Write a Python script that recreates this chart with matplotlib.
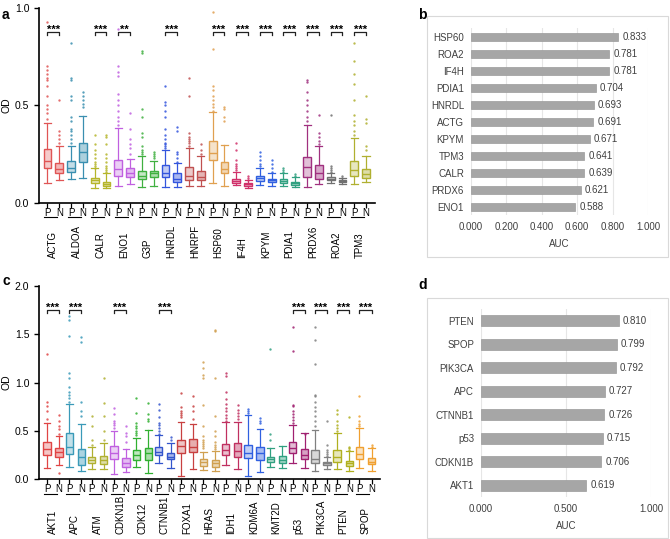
import numpy as np
import matplotlib
matplotlib.use('Agg')
import matplotlib.pyplot as plt
from matplotlib import transforms
from matplotlib.colors import to_rgba
from matplotlib.patches import Rectangle

plt.rcParams['font.family'] = ['Liberation Sans', 'DejaVu Sans']

# ---------------- panel a: boxplot stats  [whislo, q1, med, q3, whishi]
genes_a = ['ACTG', 'ALDOA', 'CALR', 'ENO1', 'G3P', 'HNRDL', 'HNRPF', 'HSP60',
           'IF4H', 'KPYM', 'PDIA1', 'PRDX6', 'ROA2', 'TPM3']
colors_a = ['#e05555', '#3a8fb0', '#b5b52a', '#c060e0', '#40b040', '#3355dd', '#c05050',
            '#e0a050', '#d0306a', '#3060e0', '#30a080', '#a0307f', '#707070', '#b0b030']
sig_a = ['***', '', '***', '**', '', '***', '', '***', '***', '***', '***', '***', '***', '***']
a_P = [[0.104, 0.178, 0.215, 0.275, 0.41], [0.123, 0.157, 0.181, 0.215, 0.292],
       [0.075, 0.103, 0.116, 0.126, 0.178], [0.087, 0.138, 0.174, 0.22, 0.383],
       [0.084, 0.123, 0.14, 0.166, 0.243], [0.084, 0.135, 0.152, 0.193, 0.272],
       [0.089, 0.118, 0.14, 0.186, 0.284], [0.10, 0.22, 0.258, 0.318, 0.465],
       [0.092, 0.10, 0.113, 0.123, 0.161], [0.092, 0.115, 0.126, 0.138, 0.178],
       [0.087, 0.10, 0.111, 0.121, 0.152], [0.084, 0.135, 0.183, 0.238, 0.40],
       [0.104, 0.118, 0.125, 0.135, 0.156], [0.096, 0.14, 0.169, 0.215, 0.335]]
a_N = [[0.118, 0.152, 0.174, 0.207, 0.292], [0.126, 0.212, 0.262, 0.309, 0.446],
       [0.075, 0.087, 0.097, 0.109, 0.152], [0.097, 0.135, 0.156, 0.178, 0.226],
       [0.087, 0.135, 0.152, 0.166, 0.217], [0.084, 0.109, 0.123, 0.152, 0.203],
       [0.089, 0.118, 0.132, 0.162, 0.241], [0.089, 0.156, 0.173, 0.209, 0.297],
       [0.079, 0.087, 0.096, 0.10, 0.118], [0.087, 0.106, 0.116, 0.125, 0.156],
       [0.082, 0.09, 0.10, 0.109, 0.135], [0.097, 0.125, 0.152, 0.195, 0.294],
       [0.096, 0.106, 0.111, 0.116, 0.126], [0.109, 0.126, 0.149, 0.174, 0.243]]
a_P_out = [[0.43, 0.46, 0.48, 0.50, 0.55, 0.60, 0.63, 0.64, 0.66, 0.68, 0.70, 0.93],
           [0.31, 0.33, 0.35, 0.37, 0.38, 0.42, 0.44, 0.53, 0.55, 0.63, 0.64, 0.82],
           [0.18, 0.19, 0.20, 0.21, 0.23, 0.25, 0.27, 0.30, 0.35],
           [0.40, 0.42, 0.44, 0.47, 0.50, 0.53, 0.56, 0.65, 0.67, 0.70, 0.89],
           [0.25, 0.26, 0.27, 0.29, 0.34, 0.36, 0.44, 0.48, 0.77, 0.78],
           [0.28, 0.29, 0.30, 0.31, 0.33, 0.35, 0.38, 0.44, 0.47, 0.50, 0.52, 0.60],
           [0.29, 0.31, 0.32, 0.33, 0.34, 0.36, 0.55, 0.64],
           [0.47, 0.49, 0.51, 0.53, 0.55, 0.58, 0.60, 0.79, 0.98],
           [0.17, 0.18, 0.19, 0.20, 0.22, 0.27, 0.31],
           [0.19, 0.20, 0.22, 0.24, 0.26],
           [0.16, 0.17, 0.18],
           [0.42, 0.44, 0.47, 0.50, 0.53, 0.57, 0.62, 0.63],
           [0.16, 0.17, 0.18, 0.19, 0.45],
           [0.35, 0.37, 0.40, 0.42, 0.45, 0.53, 0.61, 0.66, 0.73, 0.82]]
a_N_out = [[0.31, 0.33, 0.35, 0.37, 0.53],
           [0.49, 0.51, 0.53, 0.55, 0.57],
           [0.16, 0.17, 0.18, 0.19, 0.21, 0.23, 0.25, 0.30, 0.34, 0.35],
           [0.25, 0.28, 0.30, 0.33, 0.38, 0.46],
           [0.23, 0.24, 0.25, 0.26],
           [0.21, 0.23, 0.25, 0.26, 0.37, 0.39],
           [0.25, 0.27, 0.30],
           [0.42, 0.44, 0.48, 0.49],
           [0.12, 0.13, 0.14],
           [0.16, 0.18, 0.20, 0.22],
           [0.14, 0.15],
           [0.30, 0.32, 0.34, 0.36, 0.45],
           [0.13, 0.14],
           [0.27, 0.29, 0.41, 0.43, 0.55]]

# ---------------- panel c
genes_c = ['AKT1', 'APC', 'ATM', 'CDKN1B', 'CDK12', 'CTNNB1', 'FOXA1', 'HRAS', 'IDH1',
           'KDM6A', 'KMT2D', 'p53', 'PIK3CA', 'PTEN', 'SPOP']
colors_c = ['#e04545', '#3a9ab8', '#b0b030', '#c060e0', '#30b030', '#3355cc', '#c84040',
            '#d0a050', '#c03060', '#3060e0', '#30a080', '#a02070', '#808080', '#b0b020',
            '#f0a030']
sig_c = ['***', '***', '', '***', '', '***', '', '', '', '', '', '***', '***', '***', '***']
c_P = [[0.11, 0.249, 0.311, 0.387, 0.584], [0.12, 0.256, 0.335, 0.473, 0.774],
       [0.10, 0.169, 0.197, 0.231, 0.335], [0.052, 0.204, 0.266, 0.342, 0.497],
       [0.12, 0.197, 0.245, 0.30, 0.428], [0.162, 0.249, 0.283, 0.335, 0.456],
       [0.035, 0.266, 0.345, 0.404, 0.594], [0.093, 0.138, 0.173, 0.204, 0.283],
       [0.145, 0.245, 0.30, 0.363, 0.594], [0.035, 0.214, 0.273, 0.352, 0.663],
       [0.12, 0.173, 0.204, 0.231, 0.318], [0.162, 0.273, 0.318, 0.38, 0.56],
       [0.083, 0.162, 0.207, 0.30, 0.508], [0.10, 0.18, 0.231, 0.30, 0.48],
       [0.11, 0.204, 0.256, 0.335, 0.525]]
c_N = [[0.145, 0.225, 0.276, 0.325, 0.449], [0.083, 0.145, 0.231, 0.307, 0.57],
       [0.10, 0.155, 0.197, 0.242, 0.37], [0.076, 0.128, 0.169, 0.214, 0.307],
       [0.066, 0.197, 0.266, 0.318, 0.508], [0.11, 0.204, 0.231, 0.273, 0.377],
       [0.10, 0.283, 0.335, 0.415, 0.57], [0.083, 0.128, 0.162, 0.197, 0.29],
       [0.104, 0.225, 0.294, 0.377, 0.594], [0.073, 0.197, 0.273, 0.328, 0.518],
       [0.11, 0.169, 0.193, 0.235, 0.345], [0.117, 0.207, 0.249, 0.311, 0.473],
       [0.104, 0.145, 0.162, 0.18, 0.231], [0.083, 0.135, 0.162, 0.19, 0.294],
       [0.083, 0.152, 0.173, 0.221, 0.318]]
c_P_out = [[0.62, 0.70, 0.76, 0.80, 1.30],
           [0.80, 0.84, 0.87, 0.90, 0.95, 1.05, 1.10, 1.48, 1.65, 1.69],
           [0.35, 0.40, 0.55, 0.65],
           [0.53, 0.56, 0.58, 0.60, 0.67, 0.74],
           [0.46, 0.48, 0.50, 0.53, 0.55, 0.58, 0.68, 0.84],
           [0.47, 0.50, 0.53, 0.56, 0.58, 0.64, 0.72, 0.78],
           [0.64, 0.66, 0.68, 0.70, 0.75, 0.89],
           [0.32, 0.34, 0.36, 0.38, 0.40, 0.45, 0.55, 0.77, 1.05, 1.08, 1.15, 1.21],
           [0.60, 0.63, 0.66, 0.70, 0.74, 0.78, 0.83, 0.90, 1.07, 1.10],
           [0.68, 0.70, 0.73],
           [0.40, 0.47, 1.35],
           [0.58, 0.61, 0.64, 0.67, 0.70, 0.76, 0.77, 1.33, 1.57],
           [0.55, 0.60, 0.65, 0.70, 0.75, 0.80, 0.86, 0.87, 1.19, 1.44, 1.58],
           [0.50, 0.53, 0.56, 0.60, 0.67, 0.71],
           [0.55, 0.57, 0.60, 0.65, 0.86]]
c_N_out = [[0.06, 0.47, 0.52, 0.55, 0.60, 0.66],
           [0.65, 0.70, 0.80, 1.42, 1.47],
           [0.40, 0.50, 0.65, 0.79, 1.05],
           [0.38, 0.45, 0.48, 0.55],
           [0.60, 0.62, 0.67, 0.79],
           [0.40, 0.44],
           [0.62, 0.70, 0.76, 0.86],
           [0.31, 0.33, 0.35, 0.38, 0.45, 0.50, 0.65, 1.05, 1.53, 1.54],
           [0.62, 0.65, 0.68, 0.72, 0.77],
           [0.58, 0.60, 0.63],
           [],
           [0.47],
           [0.24, 0.26, 0.28, 0.30, 0.35, 0.60],
           [0.30, 0.32, 0.33, 0.64],
           [0.33, 0.35]]

# ---------------- panels b and d: AUC
genes_b = ['HSP60', 'ROA2', 'IF4H', 'PDIA1', 'HNRDL', 'ACTG', 'KPYM', 'TPM3', 'CALR',
           'PRDX6', 'ENO1']
auc_b = [0.833, 0.781, 0.781, 0.704, 0.693, 0.691, 0.671, 0.641, 0.639, 0.621, 0.588]
genes_d = ['PTEN', 'SPOP', 'PIK3CA', 'APC', 'CTNNB1', 'p53', 'CDKN1B', 'AKT1']
auc_d = [0.810, 0.799, 0.792, 0.727, 0.726, 0.715, 0.706, 0.619]


def stats(row, out):
    return dict(whislo=row[0], q1=row[1], med=row[2], q3=row[3], whishi=row[4],
                fliers=np.array(out))


def box_panel(ax, genes, colors, P, N, P_out, N_out, sig, ymax, yticks, ylabels, d):
    pos_all = []
    for i, g in enumerate(genes):
        c = colors[i]
        pos = [i - d, i + d]
        pos_all += pos
        res = ax.bxp([stats(P[i], P_out[i]), stats(N[i], N_out[i])], positions=pos,
                     widths=0.33, capwidths=0.3, patch_artist=True, manage_ticks=False,
                     boxprops=dict(facecolor=to_rgba(c, 0.3), edgecolor=c, linewidth=1),
                     medianprops=dict(color=c, linewidth=1),
                     whiskerprops=dict(color=c, linewidth=0.9),
                     capprops=dict(color=c, linewidth=0.9),
                     flierprops=dict(marker='o', markersize=1.7, markerfacecolor=c,
                                     markeredgecolor='none', alpha=0.85))
        res['boxes'][1].set_facecolor(to_rgba(c, 0.42))
        if sig[i]:
            yb = ymax * 0.875
            ax.plot([pos[0], pos[0], pos[1], pos[1]],
                    [yb - ymax * 0.015, yb, yb, yb - ymax * 0.015], color='#222222', lw=0.9)
            ax.text(i, yb - ymax * 0.012, sig[i], ha='center', va='bottom', fontsize=8,
                    fontweight='bold')
    ax.set_ylim(0, ymax)
    ax.set_xlim(-d - 0.36, len(genes) - 1 + d + 0.38)
    ax.set_yticks(yticks)
    ax.set_yticklabels(ylabels, fontsize=7.5)
    ax.set_xticks(pos_all)
    ax.set_xticklabels([''] * len(pos_all))
    ax.tick_params(axis='x', length=3.5, width=0.9)
    ax.tick_params(axis='y', length=3.5, width=1)
    ax.spines['top'].set_visible(False)
    ax.spines['right'].set_visible(False)
    ax.spines['left'].set_linewidth(1.2)
    ax.spines['bottom'].set_linewidth(1.2)
    ax.set_ylabel('OD', fontsize=7.5, labelpad=2)
    fig = ax.figure
    tr_pn = transforms.offset_copy(ax.get_xaxis_transform(), fig, y=-10, units='dots')
    tr_ul = transforms.offset_copy(ax.get_xaxis_transform(), fig, y=-14.5, units='dots')
    tr_gn = transforms.offset_copy(ax.get_xaxis_transform(), fig, y=-55, units='dots')
    for i, g in enumerate(genes):
        ax.text(i - d, 0, 'P', transform=tr_pn, ha='center', va='center', fontsize=7)
        ax.text(i + d, 0, 'N', transform=tr_pn, ha='center', va='center', fontsize=7)
        ax.plot([i - d - 0.14, i + d - 0.1], [0, 0], transform=tr_ul, color='k', lw=0.8,
                clip_on=False)
        ax.text(i, 0, g, transform=tr_gn, ha='center', va='bottom', rotation=90,
                fontsize=7)


def bar_panel(ax, genes, vals, xticks, xlabels):
    y = np.arange(len(genes))
    ax.barh(y, vals, height=0.47, color='#a6a6a6', edgecolor='#9a9a9a', linewidth=0.5,
            zorder=2)
    for yi, v in zip(y, vals):
        ax.annotate('%.3f' % v, (v, yi), xytext=(3, 0), textcoords='offset points',
                    va='center', ha='left', fontsize=7, color='#404040')
    ax.set_yticks(y)
    ax.set_yticklabels(genes, fontsize=7, color='#404040')
    ax.set_ylim(len(genes) - 0.5, -0.5)
    ax.set_xlim(0, 1.0)
    ax.set_xticks(xticks)
    ax.set_xticklabels(xlabels, fontsize=7, color='#404040')
    ax.tick_params(length=0, pad=5)
    ax.grid(axis='x', color='#e6e6e6', linewidth=0.8, zorder=0)
    for s in ax.spines.values():
        s.set_visible(False)
    ax.set_xlabel('AUC', fontsize=7, color='#404040', labelpad=5)


fig = plt.figure(figsize=(6.7, 5.39), dpi=100)

ax_a = fig.add_axes([0.0582, 0.6234, 0.5015, 0.3618])
box_panel(ax_a, genes_a, colors_a, a_P, a_N, a_P_out, a_N_out, sig_a, 1.0,
          [0, 0.5, 1.0], ['0.0', '0.5', '1.0'], 0.25)

ax_c = fig.add_axes([0.0582, 0.1113, 0.509, 0.3581])
box_panel(ax_c, genes_c, colors_c, c_P, c_N, c_P_out, c_N_out, sig_c, 2.0,
          [0, 0.5, 1.0, 1.5, 2.0], ['0.0', '0.5', '1.0', '1.5', '2.0'], 0.27)

fig.patches.append(Rectangle((0.637, 0.523), 0.36, 0.447, transform=fig.transFigure,
                             fill=False, edgecolor='#d9d9d9', linewidth=0.8))
fig.patches.append(Rectangle((0.637, 0.002), 0.36, 0.445, transform=fig.transFigure,
                             fill=False, edgecolor='#d9d9d9', linewidth=0.8))

ax_b = fig.add_axes([0.703, 0.601, 0.264, 0.347])
bar_panel(ax_b, genes_b, auc_b, [0, 0.2, 0.4, 0.6, 0.8, 1.0],
          ['0.000', '0.200', '0.400', '0.600', '0.800', '1.000'])

ax_d = fig.add_axes([0.718, 0.0779, 0.2537, 0.3488])
bar_panel(ax_d, genes_d, auc_d, [0, 0.5, 1.0], ['0.000', '0.500', '1.000'])

for lab, x, y in [('a', 0.003, 0.985), ('b', 0.624, 0.985), ('c', 0.003, 0.492),
                  ('d', 0.624, 0.485)]:
    fig.text(x, y, lab, fontsize=10, fontweight='bold', va='top', ha='left')

fig.savefig('out.png', dpi=100)
